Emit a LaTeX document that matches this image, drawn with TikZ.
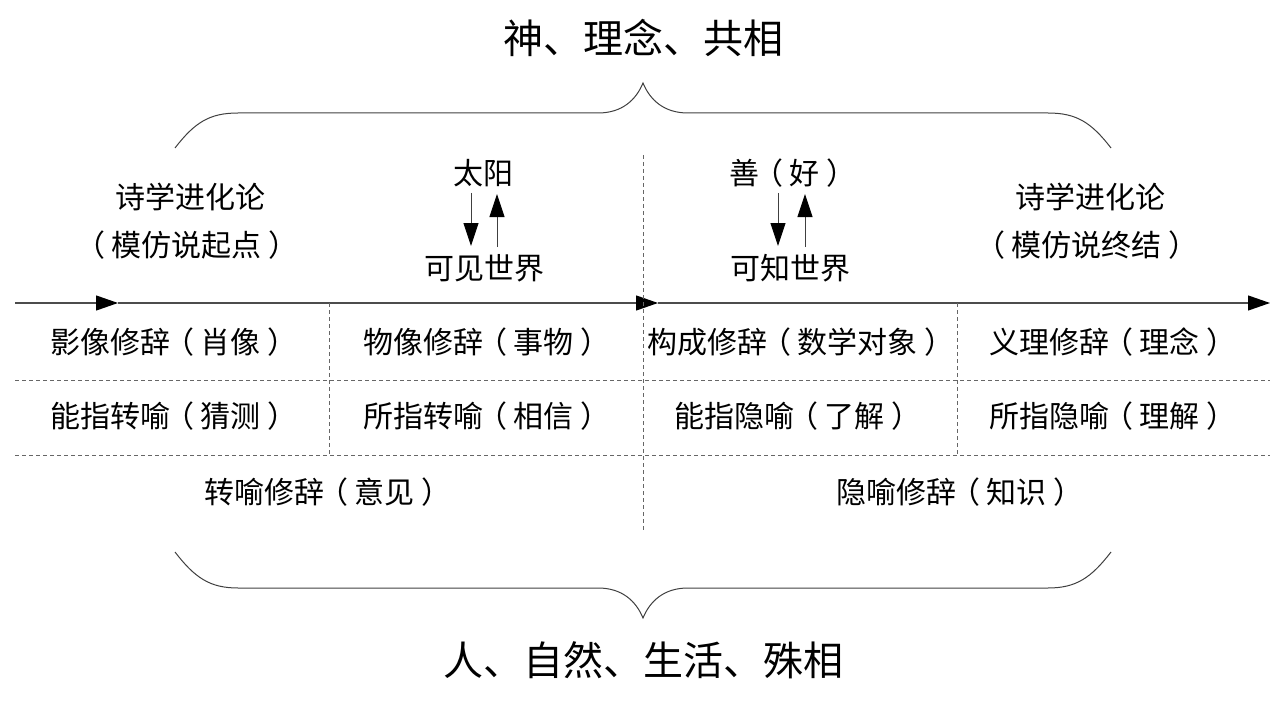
\documentclass[tikz,border=0pt]{standalone}
\usepackage{fontspec}
\setmainfont{Noto Sans CJK SC}
\usetikzlibrary{arrows.meta}
\newcommand{\lpar}{\hspace{-0.22em}（\hspace{0.22em}}
\newcommand{\rpar}{\hspace{0.22em}）\hspace{-0.22em}}
\tikzset{
  cell/.style={font=\fontsize{30}{33}\selectfont, inner sep=0pt, anchor=center},
  side/.style={font=\fontsize{30}{34}\selectfont, inner sep=0pt, anchor=center},
  title/.style={font=\fontsize{40}{44}\selectfont, inner sep=0pt, anchor=center},
  axis/.style={draw=black!70, line width=1.2pt},
  bigtip/.style={-{Triangle[length=22pt,width=15pt,color=black]}},
  smalltip/.style={-{Triangle[length=23pt,width=15pt,color=black]}, draw=black!75, line width=0.9pt},
  gridline/.style={draw=black!60, line width=1pt, dash pattern=on 4pt off 3pt},
  bracestyle/.style={draw=black!75, line width=1pt},
}
\begin{document}
\begin{tikzpicture}[x=1pt,y=-1pt]
\useasboundingbox (0,0) rectangle (1286,706);

% titles
\node[title] (top) at (643,38) {神、理念、共相};
\node[title] (bot) at (643,660) {人、自然、生活、殊相};

% braces
\draw[bracestyle] (175,148) .. controls (195,122) and (210,113) .. (238,113)
  -- (598,113) .. controls (622,113) and (636,100) .. (643,83)
  .. controls (650,100) and (664,113) .. (688,113)
  -- (1048,113) .. controls (1076,113) and (1091,122) .. (1111,148);
\draw[bracestyle] (175,552) .. controls (195,578) and (210,588) .. (238,588)
  -- (598,588) .. controls (622,588) and (636,601) .. (643,618)
  .. controls (650,601) and (664,588) .. (688,588)
  -- (1048,588) .. controls (1076,588) and (1091,578) .. (1111,552);

% axis
\coordinate (a0) at (15,303);
\coordinate (a1) at (118,303);
\coordinate (a2) at (658,303);
\coordinate (a3) at (1270,303);
\draw[axis, bigtip] (a0) -- (a1);
\draw[axis, bigtip] (a1) -- (a2);
\draw[axis, bigtip] (a2) -- (a3);

% grid lines
\coordinate (h1l) at (15,380); \coordinate (h1r) at (1270,380);
\coordinate (h2l) at (15,455); \coordinate (h2r) at (1270,455);
\coordinate (vct) at (643,155); \coordinate (vcb) at (643,530);
\coordinate (vlt) at (329,303); \coordinate (vlb) at (329,455);
\coordinate (vrt) at (957,303); \coordinate (vrb) at (957,455);
\draw[gridline] (h1l) -- (h1r);
\draw[gridline] (h2l) -- (h2r);
\draw[gridline] (vct) -- (vcb);
\draw[gridline] (vlt) -- (vlb);
\draw[gridline] (vrt) -- (vrb);

% side labels
\node[side] (l1) at (190,197) {诗学进化论};
\node[side] (l2) at (190,245) {\lpar 模仿说起点\rpar};
\node[side] (r1) at (1090,197) {诗学进化论};
\node[side] (r2) at (1090,245) {\lpar 模仿说终结\rpar};

\node[side] (sun) at (483,173) {太阳};
\node[side] (vis) at (484,268) {可见世界};
\node[side] (good) at (793,173) {善\lpar 好\rpar};
\node[side] (int) at (790,268) {可知世界};

\coordinate (sd1) at (471,193); \coordinate (sd2) at (471,246);
\coordinate (su1) at (497,247); \coordinate (su2) at (497,194);
\draw[smalltip] (sd1) -- (sd2);
\draw[smalltip] (su1) -- (su2);
\coordinate (gd1) at (778,193); \coordinate (gd2) at (778,246);
\coordinate (gu1) at (805,247); \coordinate (gu2) at (805,194);
\draw[smalltip] (gd1) -- (gd2);
\draw[smalltip] (gu1) -- (gu2);

% cells
\node[cell] (c11) at (174,342) {影像修辞\lpar 肖像\rpar};
\node[cell] (c12) at (487,342) {物像修辞\lpar 事物\rpar};
\node[cell] (c13) at (801,342) {构成修辞\lpar 数学对象\rpar};
\node[cell] (c14) at (1113,342) {义理修辞\lpar 理念\rpar};
\node[cell] (c21) at (174,416) {能指转喻\lpar 猜测\rpar};
\node[cell] (c22) at (487,416) {所指转喻\lpar 相信\rpar};
\node[cell] (c23) at (798,416) {能指隐喻\lpar 了解\rpar};
\node[cell] (c24) at (1113,416) {所指隐喻\lpar 理解\rpar};
\node[cell] (c31) at (328,492) {转喻修辞\lpar 意见\rpar};
\node[cell] (c32) at (960,492) {隐喻修辞\lpar 知识\rpar};
\end{tikzpicture}
\end{document}
